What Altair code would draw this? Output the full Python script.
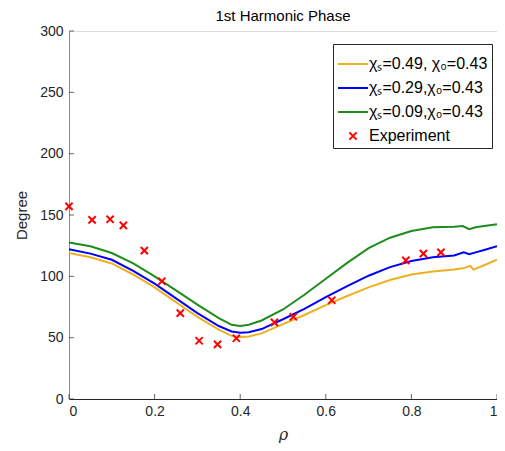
import altair as alt
import pandas as pd

# ---- data ----
series_names = ["χₛ=0.49, χ₀=0.43", "χₛ=0.29,χ₀=0.43", "χₛ=0.09,χ₀=0.43", "Experiment"]
series_colors = ["#EDB120", "#0000FF", "#1E8C1E", "#FF0000"]

rho_a = [0, 0.05, 0.1, 0.15, 0.2, 0.25, 0.3, 0.35, 0.38, 0.4, 0.42, 0.45, 0.5, 0.55, 0.6,
         0.65, 0.7, 0.75, 0.8, 0.85, 0.9, 0.92, 0.938, 0.945, 0.97, 1.0]
deg_a = [119, 115.5, 110.5, 101.5, 91, 79, 67, 56.5, 51.5, 50.5, 51, 53.5, 61, 68.5, 76.5,
         84, 91, 97, 101.5, 104, 105.5, 106.5, 108.5, 105.5, 109, 113.5]

rho_b = [0, 0.05, 0.1, 0.15, 0.2, 0.25, 0.3, 0.35, 0.38, 0.4, 0.42, 0.45, 0.5, 0.55, 0.6,
         0.65, 0.7, 0.75, 0.8, 0.85, 0.9, 0.922, 0.935, 0.95, 0.97, 1.0]
deg_b = [122, 118.5, 113.5, 104.5, 94, 82, 70, 59.5, 55, 54, 54.5, 57, 65, 73.5, 83,
         92, 100.5, 107.5, 112.5, 115.5, 117, 119.5, 118, 119.5, 121.5, 124.5]

rho_c = [0, 0.05, 0.1, 0.15, 0.2, 0.25, 0.3, 0.35, 0.38, 0.4, 0.42, 0.45, 0.5, 0.55, 0.6,
         0.65, 0.7, 0.75, 0.8, 0.85, 0.9, 0.92, 0.935, 0.95, 0.97, 1.0]
deg_c = [127.5, 124.5, 119, 110.5, 100, 88.5, 77, 66, 60.5, 59.5, 60.5, 64, 73, 85, 98,
         111, 123, 131.5, 137, 140, 140.5, 141, 138.5, 140, 141, 142.5]

rho_exp = [0.0, 0.054, 0.096, 0.127, 0.176, 0.217, 0.260, 0.304, 0.347, 0.391,
           0.480, 0.524, 0.614, 0.787, 0.828, 0.869]
deg_exp = [157, 146, 146.5, 141.5, 121, 96, 70, 47.5, 44.5, 49.5,
           62.5, 67, 80.5, 113, 118.5, 119.5]

x_ticks = [0, 0.2, 0.4, 0.6, 0.8, 1.0]
y_ticks = [0, 50, 100, 150, 200, 250, 300]

# ---- tables ----
rows = []
for name, xs, ys in zip(series_names[:3], [rho_a, rho_b, rho_c], [deg_a, deg_b, deg_c]):
    for i, (xv, yv) in enumerate(zip(xs, ys)):
        rows.append({"series": name, "rho": xv, "deg": yv, "order": i})
curves = pd.DataFrame(rows)
exp = pd.DataFrame({"series": series_names[3], "rho": rho_exp, "deg": deg_exp})
xt = pd.DataFrame({"rho": x_ticks})
yt = pd.DataFrame({"deg": y_ticks})

W, H = 428, 368
FONT = "Liberation Sans"
SYM = 900  # symbol area: stroke length ~30px
XPATH = "M-0.24,-0.24L0.24,0.24M-0.24,0.24L0.24,-0.24"

xscale = alt.Scale(domain=[0, 1], nice=False, zero=False)
yscale = alt.Scale(domain=[0, 300], nice=False)
cscale = alt.Scale(domain=series_names, range=series_colors)
sscale = alt.Scale(domain=series_names, range=["stroke", "stroke", "stroke", XPATH])

xaxis = alt.Axis(title="ρ", values=x_ticks, format="~g", ticks=False, grid=False,
                 domainColor="#262626", labelColor="#262626", labelFontSize=14,
                 labelPadding=5, titleFontSize=16, titleFontStyle="italic",
                 titleFontWeight="normal", titleColor="#262626", titlePadding=8,
                 labelFont=FONT, titleFont="DejaVu Serif")
yaxis = alt.Axis(title="Degree", values=y_ticks, ticks=False, grid=False,
                 domainColor="#8a8a8a", labelColor="#262626", labelFontSize=14,
                 labelPadding=6, titleFontSize=15, titleFontWeight="normal",
                 titleColor="#262626", titlePadding=10, labelFont=FONT, titleFont=FONT)

legend = alt.Legend(title=None, orient="none", legendX=264, legendY=13,
                    fillColor="white", strokeColor="#262626", padding=4,
                    labelFont=FONT, labelFontSize=16, labelColor="#000000",
                    rowPadding=0, symbolStrokeWidth=2, labelOffset=0,
                    symbolSize=SYM, symbolOpacity=1)

X = alt.X("rho:Q", scale=xscale, axis=xaxis)
Y = alt.Y("deg:Q", scale=yscale, axis=yaxis)

lines = alt.Chart(curves).mark_line(strokeWidth=2).encode(
    x=X, y=Y,
    color=alt.Color("series:N", scale=cscale, legend=legend),
    order="order:Q",
)

points = alt.Chart(exp).mark_point(filled=False, strokeWidth=2, opacity=1, size=SYM).encode(
    x=X, y=Y,
    color=alt.Color("series:N", scale=cscale, legend=legend),
    shape=alt.Shape("series:N", scale=sscale, legend=legend),
)

xticks = alt.Chart(xt).mark_tick(color="#262626", thickness=1, size=5).encode(
    x=X, y=alt.value(H - 2.5))
yticks = alt.Chart(yt).mark_tick(color="#262626", thickness=1, size=5, orient="horizontal").encode(
    y=Y, x=alt.value(2.5))

chart = alt.layer(lines, xticks, yticks, points).properties(
    width=W, height=H,
    title=alt.Title("1st Harmonic Phase", font=FONT, fontSize=15, fontWeight="normal",
                    color="#000000", offset=0),
    autosize=alt.AutoSizeParams(type="none"),
    padding={"left": 61, "top": 23, "right": 0, "bottom": 44},
).configure_view(stroke="transparent", strokeWidth=0).configure_axis(grid=False).configure(background="white")

chart.save("out.html", embed_options={"renderer": "svg", "actions": False})
